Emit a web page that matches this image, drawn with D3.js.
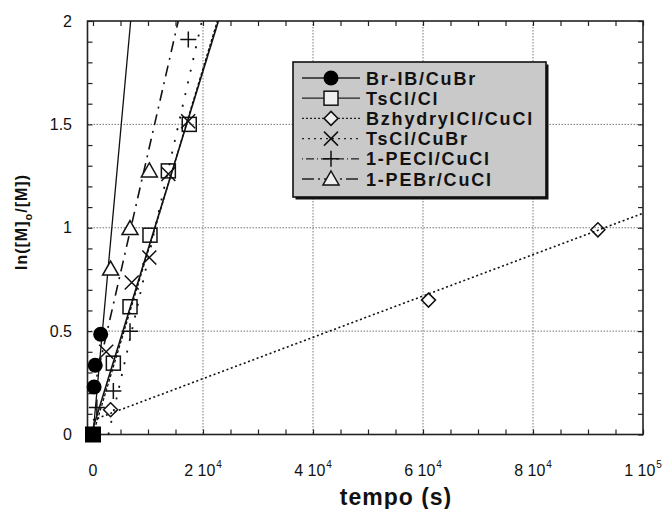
<!DOCTYPE html>
<html>
<head>
<meta charset="utf-8">
<script src="https://cdn.jsdelivr.net/npm/d3@7"></script>
<style>
  html, body { margin: 0; padding: 0; background: #fff; }
  svg { display: block; }
</style>
</head>
<body>
<svg id="chart" width="670" height="509"></svg>
<script>
// ---------- data ----------
const seriesNames = ["Br-IB/CuBr", "TsCl/Cl", "BzhydrylCl/CuCl", "TsCl/CuBr", "1-PECl/CuCl", "1-PEBr/CuCl"];

// measured points [time (s), ln([M]0/[M])]
const brIBPoints      = [[200, 0.23], [400, 0.335], [1400, 0.485]];
const tsClClPoints    = [[3700, 0.345], [6730, 0.618], [10360, 0.964], [13700, 1.275], [17500, 1.50]];
const bzhydrylPoints  = [[3200, 0.12], [61000, 0.65], [91800, 0.99]];
const tsClCuBrPoints  = [[2400, 0.40], [7040, 0.735], [10240, 0.856], [13700, 1.26], [17300, 1.515]];
const pEClPoints      = [[700, 0.13], [3700, 0.21], [6730, 0.50], [17330, 1.91]];
const pEBrPoints      = [[3200, 0.80], [6730, 0.996], [10240, 1.275]];
const originPoint     = [[0, 0]];

// fitted lines as drawn (end points)
const brIBFit     = [[0, 0], [6850, 2]];
const tsClClFit   = [[0, 0.03], [22800, 2]];
const bzhydrylFit = [[0, 0.07], [100000, 1.07]];
const tsClCuBrFit = [[0, 0.0], [22600, 2]];
const pEClFit     = [[2800, 0], [19800, 2]];
const pEBrFit     = [[0, 0.2], [15500, 2]];

const xMajorTicks = [0, 20000, 40000, 60000, 80000, 100000];
const xTickLabels = [["0", ""], ["2 10", "4"], ["4 10", "4"], ["6 10", "4"], ["8 10", "4"], ["1 10", "5"]];
const yMajorTicks = [0, 0.5, 1, 1.5, 2];
const yTickLabels = ["0", "0.5", "1", "1.5", "2"];
const xGrid = [20000, 40000, 60000, 80000];
const yGrid = [0.5, 1, 1.5];

// ---------- setup ----------
const svg = d3.select("#chart");
const L = 87.5, R = 643, T = 21, B = 434.5;
const x = d3.scaleLinear().domain([-1000, 100000]).range([L, R]);
const y = d3.scaleLinear().domain([0, 2]).range([B, T]);

const defs = svg.append("defs");
defs.append("clipPath").attr("id", "plotclip")
  .append("rect").attr("x", L).attr("y", T).attr("width", R - L).attr("height", B - T);

// grid
const grid = svg.append("g");
grid.selectAll(".vg").data(xGrid).join("line")
  .attr("x1", d => x(d)).attr("x2", d => x(d)).attr("y1", T).attr("y2", B)
  .attr("stroke", "#777").attr("stroke-width", 1).attr("stroke-dasharray", "1.5,1.5");
grid.selectAll(".hg").data(yGrid).join("line")
  .attr("y1", d => y(d)).attr("y2", d => y(d)).attr("x1", L).attr("x2", R)
  .attr("stroke", "#777").attr("stroke-width", 1).attr("stroke-dasharray", "1.5,1.5");

// axes (inward minor ticks on all sides)
const xMinor = d3.range(0, 100001, 5000);
const yMinor = d3.range(0, 2.0001, 0.1);
function styleAxis(g) {
  g.select(".domain").remove();
  g.selectAll(".tick line").attr("stroke", "#222").attr("stroke-width", 1.2);
  g.selectAll(".tick text").remove();
}
svg.append("g").attr("transform", `translate(0,${B})`)
  .call(d3.axisBottom(x).tickValues(xMinor).tickSize(-5)).call(styleAxis);
svg.append("g").attr("transform", `translate(0,${T})`)
  .call(d3.axisTop(x).tickValues(xMinor).tickSize(-5)).call(styleAxis);
svg.append("g").attr("transform", `translate(${L},0)`)
  .call(d3.axisLeft(y).tickValues(yMinor).tickSize(-5)).call(styleAxis);
svg.append("g").attr("transform", `translate(${R},0)`)
  .call(d3.axisRight(y).tickValues(yMinor).tickSize(-5)).call(styleAxis);

// frame
svg.append("rect").attr("x", L).attr("y", T).attr("width", R - L).attr("height", B - T)
  .attr("fill", "none").attr("stroke", "#222").attr("stroke-width", 1.6);

// tick labels
const xl = svg.append("g").attr("font-family", "Liberation Sans, Arial, sans-serif").attr("font-size", 16).attr("fill", "#111");
xMajorTicks.forEach((v, i) => {
  const t = xl.append("text").attr("x", x(v)).attr("y", 476).attr("text-anchor", "middle");
  t.append("tspan").text(xTickLabels[i][0]);
  if (xTickLabels[i][1]) t.append("tspan").attr("dy", -8).attr("font-size", 10).attr("dx", 1).text(xTickLabels[i][1]);
});
const yl = svg.append("g").attr("font-family", "Liberation Sans, Arial, sans-serif").attr("font-size", 16).attr("fill", "#111");
yMajorTicks.forEach((v, i) => {
  yl.append("text").attr("x", 72).attr("y", y(v) + 5.5).attr("text-anchor", "end").text(yTickLabels[i]);
});

// axis titles
svg.append("text").attr("x", 396).attr("y", 505).attr("text-anchor", "middle")
  .attr("font-family", "Liberation Sans, Arial, sans-serif").attr("font-weight", "bold")
  .attr("font-size", 23).attr("letter-spacing", 1).attr("fill", "#111").text("tempo (s)");
const yt = svg.append("text").attr("transform", "translate(27,222) rotate(-90)").attr("text-anchor", "middle")
  .attr("font-family", "Liberation Sans, Arial, sans-serif").attr("font-weight", "bold")
  .attr("font-size", 16).attr("letter-spacing", 1).attr("fill", "#111");
yt.append("tspan").text("ln([M]");
yt.append("tspan").attr("dy", 5).attr("font-size", 11).text("o");
yt.append("tspan").attr("dy", -5).text("/[M])");

// ---------- marks ----------
const line = d3.line().x(d => x(d[0])).y(d => y(d[1]));
const plot = svg.append("g").attr("clip-path", "url(#plotclip)");

const styles = [
  { fit: brIBFit, pts: brIBPoints, dash: null, w: 1.3, sym: "circle" },
  { fit: tsClClFit, pts: tsClClPoints, dash: null, w: 1.6, sym: "square" },
  { fit: bzhydrylFit, pts: bzhydrylPoints, dash: "2,2.6", w: 1.6, sym: "diamond" },
  { fit: tsClCuBrFit, pts: tsClCuBrPoints, dash: "3,2", w: 1.3, sym: "x" },
  { fit: pEClFit, pts: pEClPoints, dash: "2,10", w: 1.8, sym: "plus" },
  { fit: pEBrFit, pts: pEBrPoints, dash: "11,6,2,6", w: 1.6, sym: "triangle" }
];

styles.forEach(s => {
  plot.append("path").datum(s.fit).attr("d", line).attr("fill", "none")
    .attr("stroke", "#111").attr("stroke-width", s.w)
    .attr("stroke-dasharray", s.dash);
});

function drawSymbol(g, sym, cx, cy, legend) {
  const sw = 1.5;
  if (sym === "circle") {
    g.append("circle").attr("cx", cx).attr("cy", cy).attr("r", 7.5).attr("fill", "#000");
  } else if (sym === "square") {
    g.append("rect").attr("x", cx - 7).attr("y", cy - 7).attr("width", 14).attr("height", 14)
      .attr("fill", legend ? "#eee" : "none").attr("stroke", "#111").attr("stroke-width", sw);
  } else if (sym === "diamond") {
    g.append("path").attr("d", `M${cx},${cy - 7}L${cx + 7},${cy}L${cx},${cy + 7}L${cx - 7},${cy}Z`)
      .attr("fill", legend ? "#eee" : "none").attr("stroke", "#111").attr("stroke-width", sw);
  } else if (sym === "x") {
    g.append("path").attr("d", `M${cx - 7},${cy - 7}L${cx + 7},${cy + 7}M${cx - 7},${cy + 7}L${cx + 7},${cy - 7}`)
      .attr("stroke", "#111").attr("stroke-width", sw);
  } else if (sym === "plus") {
    g.append("path").attr("d", `M${cx - 8},${cy}L${cx + 8},${cy}M${cx},${cy - 8}L${cx},${cy + 8}`)
      .attr("stroke", "#111").attr("stroke-width", sw);
  } else if (sym === "triangle") {
    g.append("path").attr("d", `M${cx},${cy - 8}L${cx + 8},${cy + 6}L${cx - 8},${cy + 6}Z`)
      .attr("fill", legend ? "#eee" : "#fff").attr("stroke", "#111").attr("stroke-width", sw);
  }
}

const markG = svg.append("g");
styles.forEach(s => {
  s.pts.forEach(p => drawSymbol(markG, s.sym, x(p[0]), y(p[1]), false));
});
// overlapping markers of all series at the origin
markG.selectAll(".origin").data(originPoint).join("rect")
  .attr("x", d => x(d[0]) - 8).attr("y", d => y(d[1]) - 8)
  .attr("width", 16).attr("height", 16).attr("fill", "#000");

// ---------- legend ----------
const lg = svg.append("g");
const lx = 293, ly = 62, lw = 253, lh = 135;
lg.append("rect").attr("x", lx + 2.5).attr("y", ly + 2.5).attr("width", lw).attr("height", lh).attr("fill", "#111");
lg.append("rect").attr("x", lx).attr("y", ly).attr("width", lw).attr("height", lh)
  .attr("fill", "#c9c9c9").attr("stroke", "#111").attr("stroke-width", 1.6);
const legendDash = [null, null, "2,2", "2,4", "1,3,8,3", "12,4,2,4"];
seriesNames.forEach((name, i) => {
  const cy = 78 + i * 20.2;
  lg.append("line").attr("x1", 302).attr("x2", 360).attr("y1", cy).attr("y2", cy)
    .attr("stroke", "#222").attr("stroke-width", 1.3).attr("stroke-dasharray", legendDash[i]);
  drawSymbol(lg, styles[i].sym, 331, cy, true);
  lg.append("text").attr("x", 366).attr("y", cy + 6.5)
    .attr("font-family", "Liberation Sans, Arial, sans-serif").attr("font-weight", "bold")
    .attr("font-size", 18).attr("letter-spacing", 1.8).attr("fill", "#111").text(name);
});
</script>
</body>
</html>
